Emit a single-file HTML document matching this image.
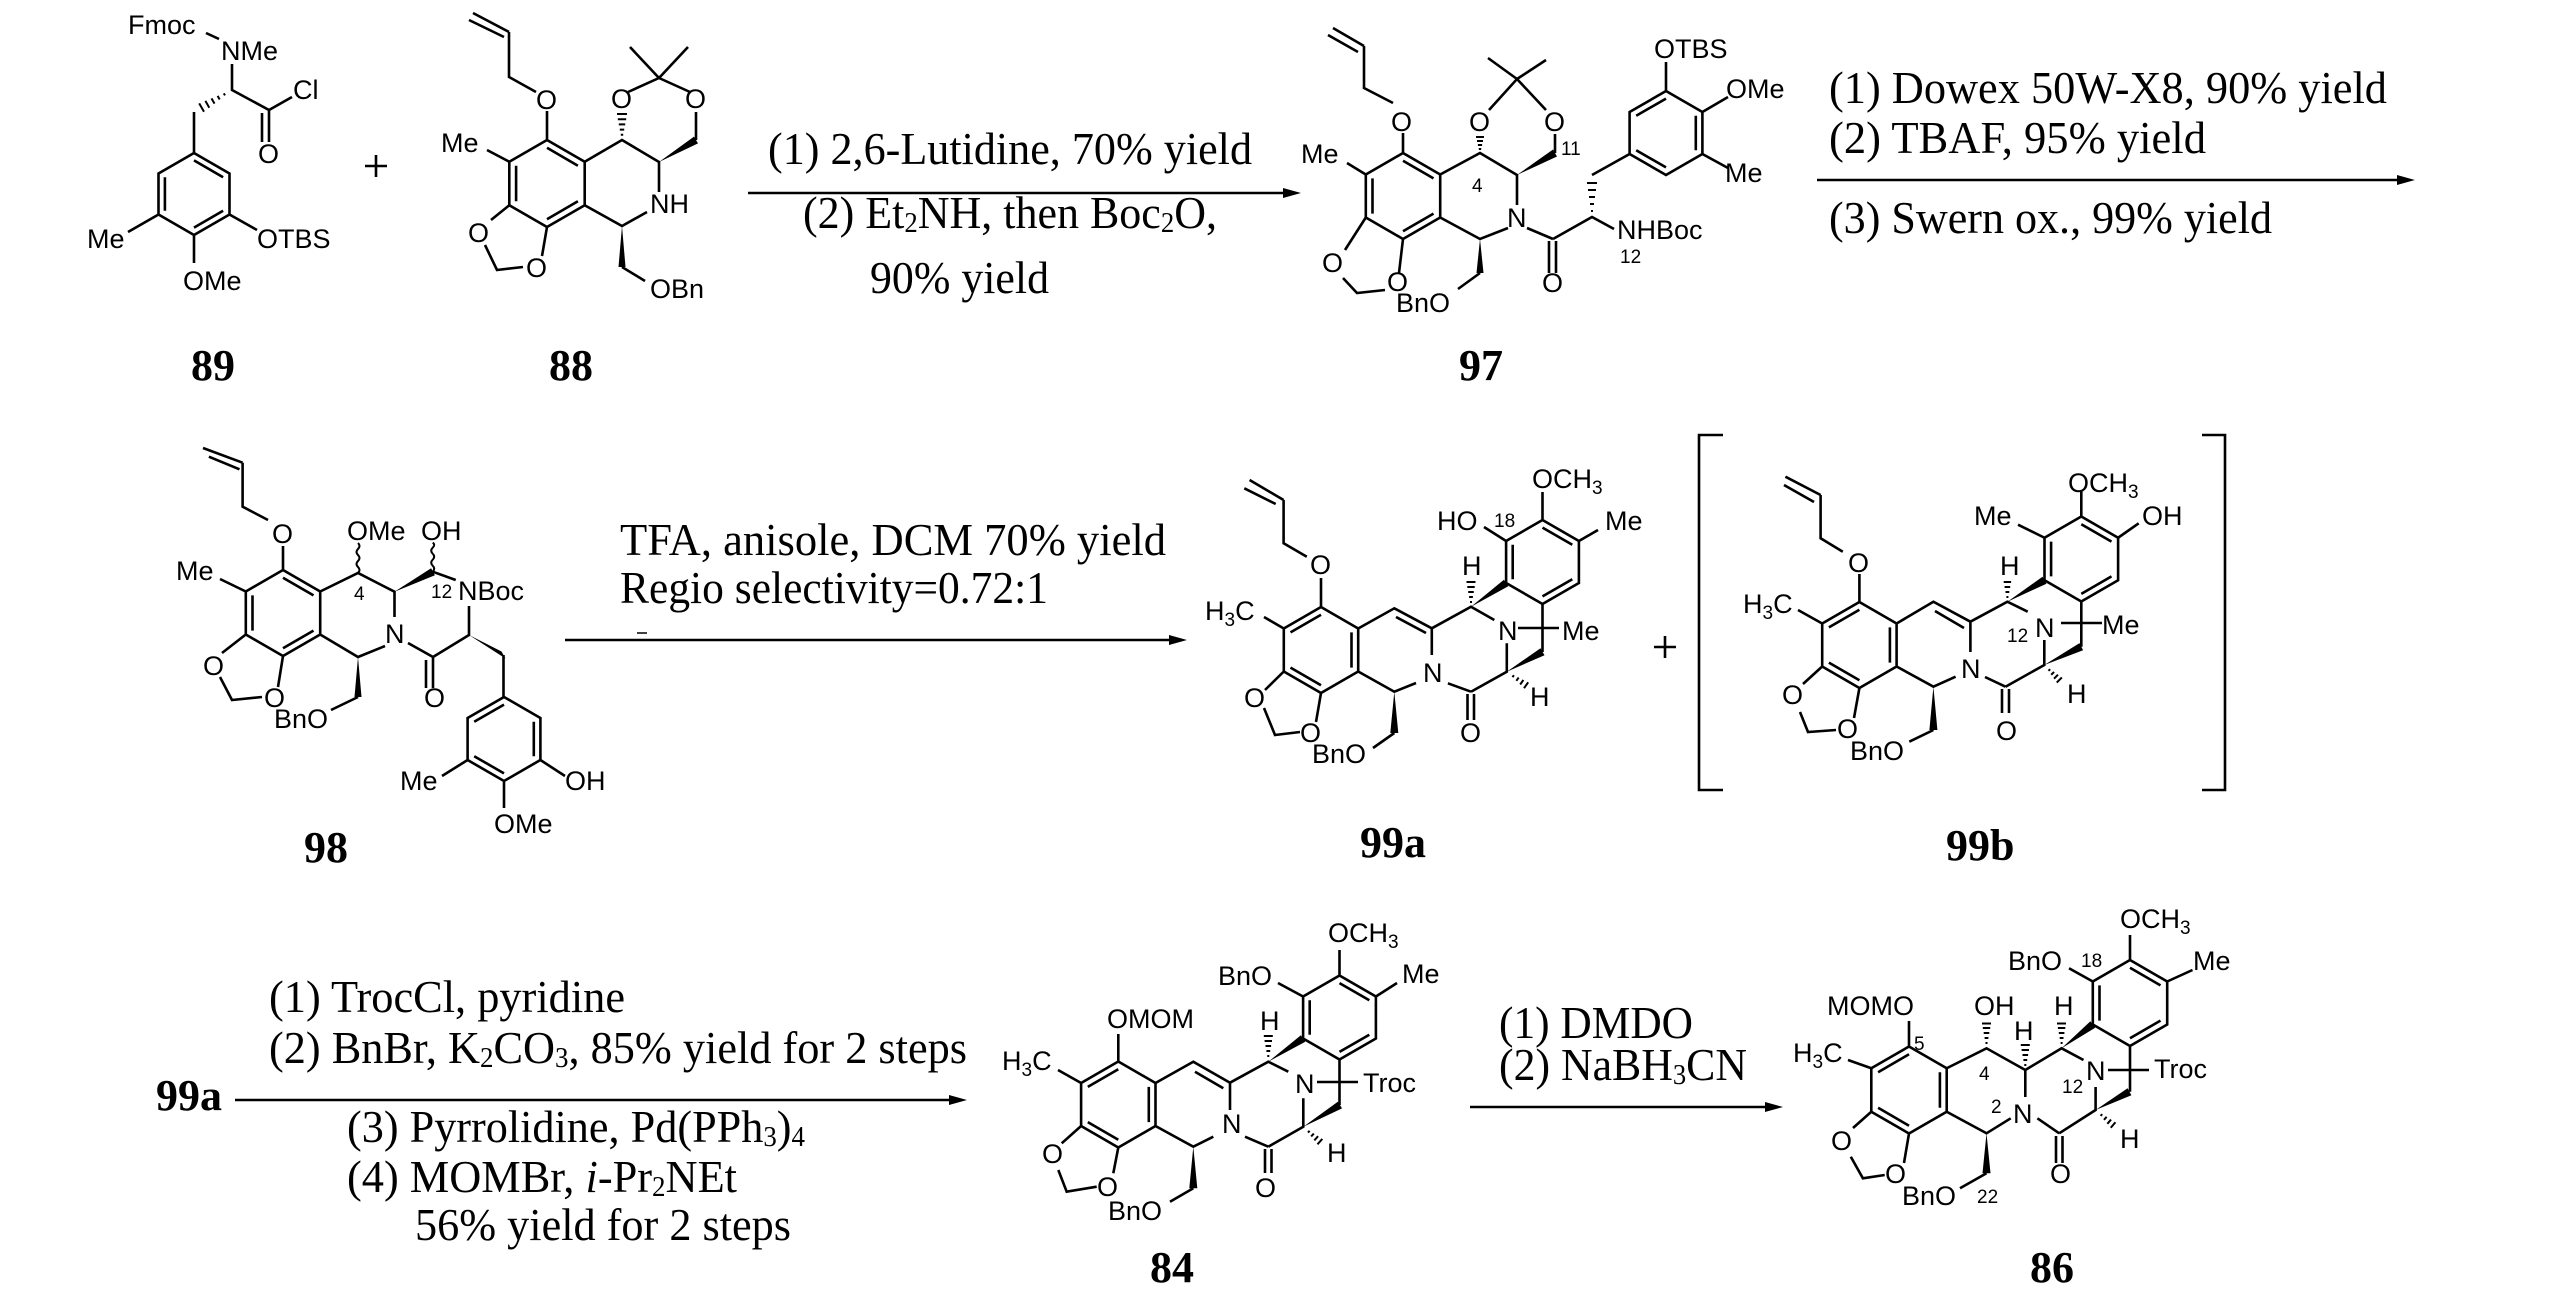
<!DOCTYPE html>
<html><head><meta charset="utf-8"><style>
html,body{margin:0;padding:0;background:#fff;}
svg{display:block;}
.l{stroke:#000;stroke-width:2.6;fill:none;stroke-linecap:butt;stroke-linejoin:miter;}
.h{stroke:#000;stroke-width:2;fill:none;}
.w{fill:#000;stroke:none;}
.a{font-family:"Liberation Sans",Arial,sans-serif;font-size:27px;fill:#000;}
.n{font-family:"Liberation Sans",Arial,sans-serif;font-size:19px;fill:#000;}
.r{font-family:"Liberation Serif","Times New Roman",serif;font-size:46px;fill:#000;}
.b{font-family:"Liberation Serif","Times New Roman",serif;font-size:44px;font-weight:bold;fill:#000;}
</style></head><body>
<svg width="2567" height="1304" viewBox="0 0 2567 1304" xmlns="http://www.w3.org/2000/svg">
<rect x="0" y="0" width="2567" height="1304" fill="#fff"/>

<!-- ===== 89 ===== -->
<path class="l" d="M206,33 L219,39 M232,64 V90 L269,110 L292,97 M269,110 V142 M262,113 V142 M194,112 V153 M194,153 L229.5,173.5 V214.5 L194,235 L158.5,214.5 V173.5 Z M194,160.4 L223.1,177.2 M164.9,177.2 V210.8 M223.1,210.8 L194,227.6 M158.5,214.5 L128,232 M194,235 V263 M229.5,214.5 L257,230"/>
<path class="h" d="M223.8,93.4 L225,95.4 M217.6,95.9 L219.7,99.5 M211.5,98.4 L214.5,103.6 M205.4,100.9 L209.3,107.7 M199.2,103.4 L204,111.8"/>
<text class="a" x="128" y="34">Fmoc</text>
<text class="a" x="221" y="60">NMe</text>
<text class="a" x="293" y="99">Cl</text>
<text class="a" x="258" y="163">O</text>
<text class="a" x="87" y="248">Me</text>
<text class="a" x="183" y="290">OMe</text>
<text class="a" x="257" y="248">OTBS</text>
<text class="b" x="191" y="380">89</text>

<!-- plus -->
<path class="l" d="M365,166 H387 M376,155 V177"/>

<!-- ===== 88 ===== -->
<path class="l" d="M473,13 L509,32 M469,20 L504,37 M509,32 V77 L536,92 M547,111 V140 M547,140 L584.7,161.75 V205.25 L547,227 L509.3,205.25 V161.75 Z M547,147.8 L577.9,165.7 M516.1,165.7 V201.3 M577.9,201.3 L547,219.2 M509.3,161.75 L487,150 M509.3,205.25 L491,220 M547,227 L542,256 M485,245 L497,270 L523,267 M584.7,161.75 L622,140 L659,162 V192 M647,212 L622,226 L584.7,205.25 M622,267 L645,281 M696,140 V112 M628,92 L659,78 L690,92 M659,78 L630,47 M659,78 L688,47"/>
<polygon class="w" points="622,226 618.5,267 625.5,267"/>
<polygon class="w" points="659,162 698,143.4 694,136.6"/>
<path class="h" d="M620.8,134.8 h2.4 M619.8,129.6 h4.4 M618.8,124.4 h6.4 M617.8,119.2 h8.4 M617,114 h10"/>
<text class="a" x="536" y="109">O</text>
<text class="a" x="441" y="152">Me</text>
<text class="a" x="468" y="242">O</text>
<text class="a" x="526" y="277">O</text>
<text class="a" x="611" y="108">O</text>
<text class="a" x="685" y="108">O</text>
<text class="a" x="650" y="213">NH</text>
<text class="a" x="650" y="298">OBn</text>
<text class="b" x="549" y="380">88</text>

<!-- arrow 1 -->
<path class="l" d="M748,193 H1285"/>
<polygon class="w" points="1301,193 1283,188 1283,198"/>
<text class="r" x="768" y="164" textLength="484" lengthAdjust="spacingAndGlyphs">(1) 2,6-Lutidine, 70% yield</text>
<text class="r" x="803" y="228" textLength="414" lengthAdjust="spacingAndGlyphs">(2) Et<tspan font-size="28" dy="4">2</tspan><tspan dy="-4">NH, then Boc</tspan><tspan font-size="28" dy="4">2</tspan><tspan dy="-4">O,</tspan></text>
<text class="r" x="870" y="293" textLength="179" lengthAdjust="spacingAndGlyphs">90% yield</text>

<!-- ===== 97 ===== -->
<path class="l" d="M1333,28 L1364,46 M1328,35 L1358,52 M1364,46 V88 L1393,103 M1403,133 V153 M1403,153 L1440.2,174.5 V217.5 L1403,239 L1365.8,217.5 V174.5 Z M1403,160.7 L1433.5,178.4 M1372.5,178.4 V213.6 M1433.5,213.6 L1403,231.3 M1365.8,174.5 L1347,163 M1365.8,217.5 L1345,250 M1403,239 L1399,273 M1343,278 L1357,293 L1385,290 M1440.2,174.5 L1480,153 L1517,175 V205 M1508,228 L1480,239 L1440.2,217.5 M1480,273 L1458,289 M1555,153 V134 M1489,110 L1517,79 L1546,110 M1517,79 L1488,58 M1517,79 L1546,60 M1527,228 L1553,239 M1549,241 V273 M1556,241 V273 M1553,239 L1592,217 L1614,229 M1592,175 L1629.6,154 M1666,91 L1702.4,112 V154 L1666,175 L1629.6,154 V112 Z M1636.2,115.8 L1666,98.6 M1695.8,115.8 V150.2 M1666,167.4 L1636.2,150.2 M1666,91 V62 M1702.4,112 L1728,97 M1702.4,154 L1728,168"/>
<polygon class="w" points="1480,239 1476.5,273 1483.5,273"/>
<polygon class="w" points="1517,175 1557,156.5 1553,149.5"/>
<path class="h" d="M1478.8,149 h2.4 M1477.9,145 h4.2 M1477,141 h6 M1476,137 h8"/>
<path class="h" d="M1591,211 h2 M1590,204 h4 M1589,197 h6 M1588,190 h8 M1587,183 h10"/>
<text class="a" x="1391" y="131">O</text>
<text class="a" x="1301" y="163">Me</text>
<text class="a" x="1322" y="272">O</text>
<text class="a" x="1387" y="291">O</text>
<text class="a" x="1469" y="131">O</text>
<text class="a" x="1544" y="131">O</text>
<text class="n" x="1472" y="192">4</text>
<text class="n" x="1561" y="155">11</text>
<text class="a" x="1507" y="227">N</text>
<text class="a" x="1396" y="312">BnO</text>
<text class="a" x="1542" y="292">O</text>
<text class="a" x="1617" y="239">NHBoc</text>
<text class="n" x="1620" y="263">12</text>
<text class="a" x="1654" y="58">OTBS</text>
<text class="a" x="1726" y="98">OMe</text>
<text class="a" x="1725" y="182">Me</text>
<text class="b" x="1459" y="380">97</text>

<!-- arrow 2 -->
<path class="l" d="M1817,180 H2400"/>
<polygon class="w" points="2415,180 2397,175 2397,185"/>
<text class="r" x="1829" y="103" textLength="558" lengthAdjust="spacingAndGlyphs">(1) Dowex 50W-X8, 90% yield</text>
<text class="r" x="1829" y="153" textLength="377" lengthAdjust="spacingAndGlyphs">(2) TBAF, 95% yield</text>
<text class="r" x="1829" y="233" textLength="443" lengthAdjust="spacingAndGlyphs">(3) Swern ox., 99% yield</text>

<!-- ===== 98 ===== -->
<path class="l" d="M203,448 L242.6,462.7 M208.9,456.7 L239.5,469.3 M242.6,462.7 V506.7 L268,520 M283,546 V570 M283,570 L320.2,591.5 V634.5 L283,656 L245.8,634.5 V591.5 Z M283,577.7 L313.5,595.4 M252.5,595.4 V630.6 M313.5,630.6 L283,648.3 M245.8,591.5 L220,579 M245.8,634.5 L222,653 M283,656 L278,687 M220,677 L232,700 L262,697 M320.2,591.5 L358,573 L394.5,591.7 V617 M385,646 L358,657 L320.2,634.5 M358,697 L331,710 M432.7,571.7 L455.7,580 M408,643 L433,657 M433,657 V688 M426,660 V688 M433,657 L469,635 V606 M503.5,655 V697 M504,697 L540.4,718 V760 L504,781 L467.6,760 V718 Z M474.2,721.8 L504,704.6 M533.8,721.8 V756.2 M504,773.4 L474.2,756.2 M467.6,760 L442,776 M540.4,760 L565,776 M504,781 V808"/>
<polygon class="w" points="394.5,591.7 434.9,575.2 431.1,568.2"/>
<polygon class="w" points="358,657 354.5,697 361.5,697"/>
<polygon class="w" points="469,635 505.5,658.5 501.5,651.5"/>
<path class="h" d="M358,573 q3,-3 0,-6 t0,-6 t0,-6 t0,-6 t0,-6"/>
<path class="h" d="M432.7,571.7 q3,-3 0,-6 t0,-6 t0,-6 t0,-6 t0,-5"/>
<text class="a" x="272" y="543">O</text>
<text class="a" x="176" y="580">Me</text>
<text class="a" x="203" y="675">O</text>
<text class="a" x="264" y="707">O</text>
<text class="a" x="347" y="540">OMe</text>
<text class="a" x="421" y="540">OH</text>
<text class="n" x="354" y="600">4</text>
<text class="n" x="431" y="598">12</text>
<text class="a" x="458" y="600">NBoc</text>
<text class="a" x="385" y="643">N</text>
<text class="a" x="274" y="728">BnO</text>
<text class="a" x="424" y="707">O</text>
<text class="a" x="400" y="790">Me</text>
<text class="a" x="565" y="790">OH</text>
<text class="a" x="494" y="833">OMe</text>
<text class="b" x="304" y="862">98</text>

<!-- arrow 3 -->
<path class="l" d="M565,640 H1172"/>
<polygon class="w" points="1187,640 1169,635 1169,645"/>
<path class="l" d="M637,633 H647" style="stroke-width:1.5"/>
<text class="r" x="620" y="555" textLength="546" lengthAdjust="spacingAndGlyphs">TFA, anisole, DCM 70% yield</text>
<text class="r" x="620" y="603" textLength="428" lengthAdjust="spacingAndGlyphs">Regio selectivity=0.72:1</text>

<!-- ===== 99a ===== -->
<path class="l" d="M1249.6,480 L1283.6,500 M1244.3,488.3 L1275.7,504 M1283.6,500 V543.3 L1306.8,556.7 M1321,578 V607 M1321,607 L1358.2,628.5 V671.5 L1321,693 L1283.8,671.5 V628.5 Z M1290.5,632.4 L1321,614.7 M1351.5,632.4 V667.6 M1321,685.3 L1290.5,667.6 M1283.8,628.5 L1264,617 M1283.8,671.5 L1265,690 M1321,693 L1316,722 M1264,708 L1275,735 L1300,732 M1358.2,628.5 L1394.3,608.3 L1431.8,628.3 V655 M1396,617 L1426,633 M1358.2,671.5 L1394.3,691.7 L1416,683 M1394.3,733 L1373,748 M1447.9,683.3 L1471,691.7 M1467.5,694 V720 M1474,694 V720 M1471,691.7 L1506.8,671.7 V643.3 M1431.8,628.3 L1471,606.7 L1494.3,620 M1542.5,520 L1578.9,541 V583 L1542.5,604 L1506.1,583 V541 Z M1512.7,544.8 V579.2 M1542.5,527.6 L1572.3,544.8 M1572.3,579.2 L1542.5,596.4 M1542.5,604 V652 M1518,628 H1559 M1506.1,541 L1484,527 M1542.5,520 V492 M1578.9,541 L1598,530"/>
<polygon class="w" points="1394.3,691.7 1390.3,733 1398.3,733"/>
<polygon class="w" points="1506.8,671.7 1544.5,655.2 1540.5,648.2"/>
<polygon class="w" points="1471,606.7 1508.3,586.3 1503.9,579.7"/>
<path class="h" d="M1512.5,677.2 L1513.9,675.2 M1516.35,680.84 L1518.65,677.56 M1520.2,684.5 L1523.4,679.9 M1524,688.2 L1528.2,682.3"/>
<path class="h" d="M1470,602 h2 M1469.1,597 h3.8 M1468.2,592 h5.6 M1467.3,587 h7.4 M1466.5,582 h9"/>
<text class="a" x="1310" y="574">O</text>
<text class="a" x="1205" y="620">H<tspan class="n" dy="6">3</tspan><tspan dy="-6">C</tspan></text>
<text class="a" x="1244" y="707">O</text>
<text class="a" x="1300" y="742">O</text>
<text class="a" x="1423" y="682">N</text>
<text class="a" x="1312" y="763">BnO</text>
<text class="a" x="1460" y="742">O</text>
<text class="a" x="1530" y="706">H</text>
<text class="a" x="1498" y="640">N</text>
<text class="a" x="1462" y="575">H</text>
<text class="a" x="1562" y="640">Me</text>
<text class="a" x="1437" y="530">HO</text>
<text class="n" x="1494" y="527">18</text>
<text class="a" x="1532" y="488">OCH<tspan class="n" dy="6">3</tspan></text>
<text class="a" x="1605" y="530">Me</text>
<text class="b" x="1360" y="857">99a</text>

<!-- plus -->
<path class="l" d="M1654,647 H1676 M1665,636 V658"/>

<!-- brackets -->
<path class="l" d="M1723,435 H1699 V790 H1723 M2202,435 H2225 V790 H2202"/>

<!-- ===== 99b ===== -->
<path class="l" d="M1785.4,476.7 L1820.6,495 M1784,485 L1814,502 M1820.6,495 V538.3 L1842.8,551.7 M1859.4,574 V602 M1859.4,602 L1896.6,623.5 V666.5 L1859.4,688 L1822.2,666.5 V623.5 Z M1828.9,627.4 L1859.4,609.7 M1889.9,627.4 V662.6 M1859.4,680.3 L1828.9,662.6 M1822.2,623.5 L1798,610 M1822.2,666.5 L1803,684 M1859.4,688 L1854,718 M1800,712 L1808,732 L1836,730 M1896.6,623.5 L1933.4,601.7 L1970.4,621.7 V652 M1935,611 L1964,628 M1896.6,666.5 L1933.4,686.7 L1955.6,676.7 M1933.4,730 L1909.3,741.7 M1985,677 L2005.5,686.7 M2002,689 V713 M2009,689 V713 M2005.5,686.7 L2044.3,665 V640 M1970.4,621.7 L2007.4,601.7 L2027.7,611.7 M2081.3,516.5 L2118.1,537.75 V580.25 L2081.3,601.5 L2044.5,580.25 V537.75 Z M2051.1,541.6 V576.4 M2081.3,524.2 L2111.5,541.6 M2111.5,576.4 L2081.3,593.9 M2081.3,601.5 V646.7 M2061,623 H2102 M2044.5,537.75 L2018,524.7 M2081.3,516.5 V490 M2118.1,537.75 L2138.7,523.3"/>
<polygon class="w" points="1933.4,686.7 1929.4,730 1937.4,730"/>
<polygon class="w" points="2044.3,665 2083.1,650.3 2079.5,643.1"/>
<polygon class="w" points="2007.4,601.7 2046.5,583.7 2042.5,576.8"/>
<path class="h" d="M2048.45,670.85 L2050.15,669.15 M2051.24,674.76 L2054.06,671.94 M2054.02,678.68 L2057.98,674.72 M2056.75,682.55 L2061.85,677.45"/>
<path class="h" d="M2006.4,597 h2 M2005.5,592 h3.8 M2004.6,587 h5.6 M2003.7,582 h7.4"/>
<text class="a" x="1848" y="572">O</text>
<text class="a" x="1743" y="613">H<tspan class="n" dy="6">3</tspan><tspan dy="-6">C</tspan></text>
<text class="a" x="1782" y="704">O</text>
<text class="a" x="1837" y="738">O</text>
<text class="a" x="1961" y="678">N</text>
<text class="a" x="1850" y="760">BnO</text>
<text class="a" x="1996" y="740">O</text>
<text class="a" x="2067" y="703">H</text>
<text class="a" x="2035" y="637">N</text>
<text class="n" x="2007" y="642">12</text>
<text class="a" x="2000" y="575">H</text>
<text class="a" x="2102" y="634">Me</text>
<text class="a" x="1974" y="525">Me</text>
<text class="a" x="2068" y="492">OCH<tspan class="n" dy="6">3</tspan></text>
<text class="a" x="2142" y="525">OH</text>
<text class="b" x="1946" y="860">99b</text>

<!-- ===== arrow 4 ===== -->
<text class="b" x="156" y="1110">99a</text>
<path class="l" d="M235,1100 H952"/>
<polygon class="w" points="967,1100 949,1095 949,1105"/>
<text class="r" x="269" y="1012" textLength="356" lengthAdjust="spacingAndGlyphs">(1) TrocCl, pyridine</text>
<text class="r" x="269" y="1063" textLength="698" lengthAdjust="spacingAndGlyphs">(2) BnBr, K<tspan font-size="28" dy="4">2</tspan><tspan dy="-4">CO</tspan><tspan font-size="28" dy="4">3</tspan><tspan dy="-4">, 85% yield for 2 steps</tspan></text>
<text class="r" x="347" y="1142" textLength="458" lengthAdjust="spacingAndGlyphs">(3) Pyrrolidine, Pd(PPh<tspan font-size="28" dy="4">3</tspan><tspan dy="-4">)</tspan><tspan font-size="28" dy="4">4</tspan></text>
<text class="r" x="347" y="1192" textLength="390" lengthAdjust="spacingAndGlyphs">(4) MOMBr, <tspan font-style="italic">i</tspan>-Pr<tspan font-size="28" dy="4">2</tspan><tspan dy="-4">NEt</tspan></text>
<text class="r" x="415" y="1240" textLength="376" lengthAdjust="spacingAndGlyphs">56% yield for 2 steps</text>

<!-- ===== 84 ===== -->
<path class="l" d="M1118.3,1061.5 V1034 M1118.3,1061.5 L1155.5,1083 V1126 L1118.3,1147.5 L1081.1,1126 V1083 Z M1087.8,1086.9 L1118.3,1069.2 M1148.8,1086.9 V1122.1 M1118.3,1139.8 L1087.8,1122.1 M1081.1,1083 L1058,1070 M1081.1,1126 L1061.7,1143.3 M1118.3,1147.5 L1113.3,1173.3 M1058.3,1170 L1066.7,1191.7 L1096.7,1186.7 M1155.5,1083 L1193.3,1061.7 L1230,1082.7 V1110 M1195,1071.7 L1223.3,1088.3 M1155.5,1126 L1193.3,1146.7 L1213.3,1136.7 M1193.3,1188.3 L1170,1201.7 M1245,1136.7 L1268.3,1146.7 M1265,1149 V1173 M1271.5,1149 V1173 M1268.3,1146.7 L1303.3,1126.7 V1098.3 M1230,1082.7 L1268.3,1061.7 L1288.3,1071.7 M1339.5,975.5 L1375.9,996.5 V1038.5 L1339.5,1059.5 L1303.1,1038.5 V996.5 Z M1309.7,1000.3 V1034.7 M1339.5,983.1 L1369.3,1000.3 M1369.3,1034.7 L1339.5,1051.9 M1339.5,1059.5 V1105 M1317,1082 H1358 M1303.1,996.5 L1278,983 M1339.5,975.5 V950 M1375.9,996.5 L1397,983"/>
<polygon class="w" points="1193.3,1146.7 1189.3,1188.3 1197.3,1188.3"/>
<polygon class="w" points="1303.3,1126.7 1342,1108.4 1338,1101.6"/>
<polygon class="w" points="1268.3,1061.7 1305.3,1041.8 1300.9,1035.2"/>
<path class="h" d="M1308,1132.6 L1309.6,1130.8 M1311.16,1136.48 L1313.84,1133.52 M1314.33,1140.38 L1318.07,1136.22 M1317.49,1144.27 L1322.31,1138.93"/>
<path class="h" d="M1267.3,1056 h2 M1266.4,1051 h3.8 M1265.5,1046 h5.6 M1264.6,1041 h7.4 M1263.8,1036 h9"/>
<text class="a" x="1107" y="1028">OMOM</text>
<text class="a" x="1002" y="1070">H<tspan class="n" dy="6">3</tspan><tspan dy="-6">C</tspan></text>
<text class="a" x="1042" y="1163">O</text>
<text class="a" x="1097" y="1196">O</text>
<text class="a" x="1222" y="1133">N</text>
<text class="a" x="1108" y="1220">BnO</text>
<text class="a" x="1255" y="1197">O</text>
<text class="a" x="1327" y="1162">H</text>
<text class="a" x="1295" y="1093">N</text>
<text class="a" x="1260" y="1030">H</text>
<text class="a" x="1363" y="1092">Troc</text>
<text class="a" x="1218" y="985">BnO</text>
<text class="a" x="1328" y="942">OCH<tspan class="n" dy="6">3</tspan></text>
<text class="a" x="1402" y="983">Me</text>
<text class="b" x="1150" y="1282">84</text>

<!-- arrow 5 -->
<path class="l" d="M1470,1107 H1768"/>
<polygon class="w" points="1783,1107 1765,1102 1765,1112"/>
<text class="r" x="1499" y="1038" textLength="194" lengthAdjust="spacingAndGlyphs">(1) DMDO</text>
<text class="r" x="1499" y="1080" textLength="248" lengthAdjust="spacingAndGlyphs">(2) NaBH<tspan font-size="28" dy="4">3</tspan><tspan dy="-4">CN</tspan></text>

<!-- ===== 86 ===== -->
<path class="l" d="M1909,1046.5 V1021 M1909,1046.5 L1946.7,1068.25 V1111.75 L1909,1133.5 L1871.3,1111.75 V1068.25 Z M1878.1,1072.2 L1909,1054.3 M1939.9,1072.2 V1107.8 M1909,1125.7 L1878.1,1107.8 M1871.3,1068.25 L1848,1060 M1871.3,1111.75 L1853,1128 M1909,1133.5 L1904,1163 M1850.8,1156.7 L1862.9,1178.3 L1884.7,1175 M1946.7,1068.25 L1986.5,1048.3 L2025.3,1070 V1097 M2010.7,1118.3 L1986.5,1133.3 L1946.7,1111.75 M1986.5,1173.3 L1960,1188.3 M2037.4,1118.3 L2059.2,1133.3 M2056,1136 V1163 M2062.5,1136 V1163 M2059.2,1133.3 L2095.6,1110 V1087 M2025.3,1070 L2061.6,1048.3 L2083.5,1060 M2130,960 L2167.2,981.5 V1024.5 L2130,1046 L2092.8,1024.5 V981.5 Z M2099.5,985.4 V1020.6 M2130,967.7 L2160.5,985.4 M2160.5,1020.6 L2130,1038.3 M2130,1046 V1091.7 M2108,1070 H2149 M2092.8,981.5 L2069,968.3 M2130,960 V935 M2167.2,981.5 L2192.5,970"/>
<polygon class="w" points="1986.5,1133.3 1982.5,1173.3 1990.5,1173.3"/>
<polygon class="w" points="2095.6,1110 2131.4,1095.2 2127.6,1088.2"/>
<polygon class="w" points="2061.6,1048.3 2095.2,1027.7 2090.4,1021.3"/>
<path class="h" d="M2100.62,1115.91 L2102.18,1114.09 M2104,1119.87 L2106.6,1116.83 M2107.37,1123.82 L2111.03,1119.58 M2110.75,1127.73 L2115.45,1122.27"/>
<path class="h" d="M1985.5,1043 h2 M1984.6,1038 h3.8 M1983.7,1033 h5.6 M1982.8,1028 h7.4 M1982,1023.5 h9"/>
<path class="h" d="M2024.3,1065 h2 M2023.4,1060 h3.8 M2022.5,1055 h5.6 M2021.6,1050 h7.4 M2020.8,1045 h9"/>
<path class="h" d="M2060.6,1043 h2 M2059.7,1038 h3.8 M2058.8,1033 h5.6 M2057.9,1028 h7.4 M2057,1023.5 h9"/>
<text class="a" x="1827" y="1015">MOMO</text>
<text class="n" x="1914" y="1050">5</text>
<text class="a" x="1793" y="1062">H<tspan class="n" dy="6">3</tspan><tspan dy="-6">C</tspan></text>
<text class="a" x="1831" y="1150">O</text>
<text class="a" x="1885" y="1183">O</text>
<text class="a" x="1974" y="1015">OH</text>
<text class="n" x="1979" y="1080">4</text>
<text class="a" x="2014" y="1040">H</text>
<text class="a" x="2013" y="1123">N</text>
<text class="n" x="1991" y="1113">2</text>
<text class="a" x="1902" y="1205">BnO</text>
<text class="n" x="1977" y="1203">22</text>
<text class="a" x="2050" y="1183">O</text>
<text class="a" x="2120" y="1148">H</text>
<text class="a" x="2086" y="1080">N</text>
<text class="n" x="2062" y="1093">12</text>
<text class="a" x="2054" y="1015">H</text>
<text class="a" x="2154" y="1078">Troc</text>
<text class="a" x="2008" y="970">BnO</text>
<text class="n" x="2081" y="967">18</text>
<text class="a" x="2120" y="928">OCH<tspan class="n" dy="6">3</tspan></text>
<text class="a" x="2193" y="970">Me</text>
<text class="b" x="2030" y="1282">86</text>
</svg>
</body></html>
